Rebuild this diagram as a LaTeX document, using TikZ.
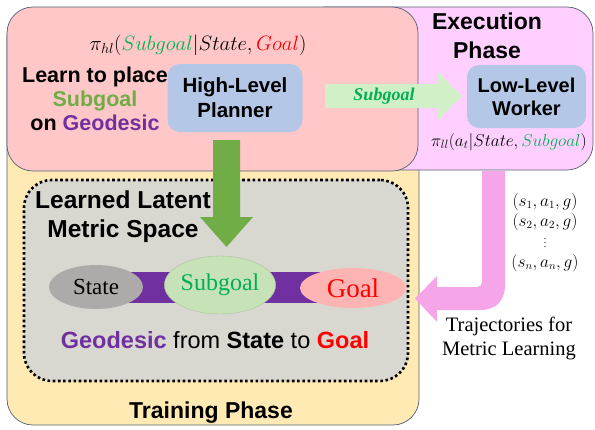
\documentclass[tikz,border=0pt]{standalone}
\usepackage{fontspec}
\setmainfont{Liberation Serif}
\setsansfont{Liberation Sans}
\usepackage{amsmath}
\usetikzlibrary{shapes.geometric,calc}

\definecolor{trainfill}{RGB}{255,234,180}
\definecolor{execfill}{RGB}{255,208,255}
\definecolor{planfill}{RGB}{255,199,199}
\definecolor{boxblue}{RGB}{180,199,231}
\definecolor{spacegray}{RGB}{216,216,208}
\definecolor{lightgreen}{RGB}{210,240,200}
\definecolor{darkgreen}{RGB}{112,173,71}
\definecolor{textgreen}{RGB}{0,176,80}
\definecolor{geopurple}{RGB}{112,48,160}
\definecolor{arrowpink}{RGB}{245,165,232}
\definecolor{stategray}{RGB}{174,170,170}
\definecolor{subgoalfill}{RGB}{200,226,184}
\definecolor{goalfill}{RGB}{255,180,180}
\definecolor{edgegray}{RGB}{85,95,115}

\tikzset{
  phasebox/.style={rectangle, rounded corners=26pt, draw=edgegray, line width=0.7pt, inner sep=0pt},
  modulebox/.style={rectangle, rounded corners=12pt, fill=boxblue, align=center,
    font=\sffamily\bfseries\fontsize{20.5}{25}\selectfont, inner sep=0pt},
  headline/.style={font=\sffamily\bfseries\fontsize{23}{29}\selectfont, align=center},
  oval/.style={ellipse, inner sep=0pt, font=\fontsize{23}{24}\selectfont},
  tuple/.style={font=\fontsize{16}{18}\selectfont, inner sep=0pt},
}

\begin{document}
\begin{tikzpicture}[x=1pt,y=-1pt]
\useasboundingbox (0,0) rectangle (595,429);

% phase panels
\node[phasebox, fill=trainfill, minimum width=412, minimum height=415] (train) at (213,217.5) {};
\node[phasebox, fill=execfill, minimum width=294, minimum height=163] (exec) at (446,88.5) {};
\node[phasebox, fill=planfill, minimum width=411, minimum height=164] (plan) at (212.5,89) {};

% latent metric space
\node[rectangle, rounded corners=28pt, fill=spacegray, draw=black, line width=2.6pt,
      dash pattern=on 2.6pt off 2.6pt, minimum width=384, minimum height=201] (space) at (216,280.5) {};

% planner and worker
\node[modulebox, minimum width=135, minimum height=68] (hl) at (235,98) {High-Level\\Planner};
\node[modulebox, minimum width=119, minimum height=63, font=\sffamily\bfseries\fontsize{20}{23}\selectfont]
  (ll) at (526.5,96.5) {Low-Level\\Worker};

% subgoal hand-off arrow
\fill[lightgreen] (325,84) -- (437,84) -- (437,71) -- (462,96) -- (437,121) -- (437,108) -- (325,108) -- cycle;
\node[text=textgreen, font=\fontsize{18}{20}\selectfont\bfseries\itshape] (sgarrow) at (384,96) {Subgoal};

% planner output down into the metric space
\fill[darkgreen] (213,140) -- (240,140) -- (240,217) -- (253,217) -- (226.5,247) -- (200,217) -- (213,217) -- cycle;

% trajectories fed back for metric learning
\fill[arrowpink] (482,171) -- (505,171) -- (505,285) .. controls (505,301) and (496,310) .. (480,310)
  -- (437,310) -- (437,322) -- (415,298.5) -- (437,276) -- (437,287) -- (477,287)
  .. controls (480,287) and (482,285) .. (482,282) -- cycle;

% geodesic
\fill[geopurple] (125,272) rectangle (330,303);
\node[oval, fill=stategray, minimum width=94, minimum height=44] (state) at (96,287) {State};
\node[oval, fill=subgoalfill, draw=subgoalfill!85!black, line width=0.4pt, text=textgreen,
      minimum width=104, minimum height=58, font=\fontsize{24}{26}\selectfont] (sub) at (220,285) {Subgoal};
\node[oval, fill=goalfill, text=red, minimum width=106, minimum height=40,
      font=\fontsize{27}{28}\selectfont] (goal) at (353,288) {Goal};

% labels
\node[font=\fontsize{20}{22}\selectfont] (pihl) at (198,45)
  {$\pi_{hl}(\textcolor{textgreen}{Subgoal}|State,\textcolor{red}{Goal})$};
\node[font=\sffamily\bfseries\fontsize{21.5}{24}\selectfont, align=center] (learn) at (95,99)
  {Learn to place\\ \textcolor{darkgreen}{Subgoal}\\ on \textcolor{geopurple}{Geodesic}};
\node[headline] (exectitle) at (487,36) {Execution\\Phase};
\node[font=\fontsize{18.5}{20}\selectfont, inner sep=0pt] (pill) at (509,142)
  {$\pi_{ll}(a_t|State,\textcolor{textgreen}{Subgoal})$};
\node[headline, font=\sffamily\bfseries\fontsize{24.5}{29}\selectfont] (spacetitle) at (123,217) {Learned Latent\\Metric Space};
\node[font=\sffamily\fontsize{23.5}{26}\selectfont] (geoline) at (215,340)
  {\textbf{\textcolor{geopurple}{Geodesic}} from \textbf{State} to \textbf{\textcolor{red}{Goal}}};
\node[headline, font=\sffamily\bfseries\fontsize{23}{26}\selectfont] (traintitle) at (211,413) {Training Phase};

% trajectory tuples
\node[tuple] (t1) at (545,202) {$(s_1,a_1,g)$};
\node[tuple] (t2) at (545,222) {$(s_2,a_2,g)$};
\node[tuple, font=\fontsize{10}{10}\selectfont] (tdots) at (545,247) {$\smash{\vdots}$};
\node[tuple] (tn) at (545,263) {$(s_n,a_n,g)$};
\node[font=\fontsize{20.5}{24}\selectfont, align=center] (trajlabel) at (509,338) {Trajectories for\\Metric Learning};
\end{tikzpicture}
\end{document}
